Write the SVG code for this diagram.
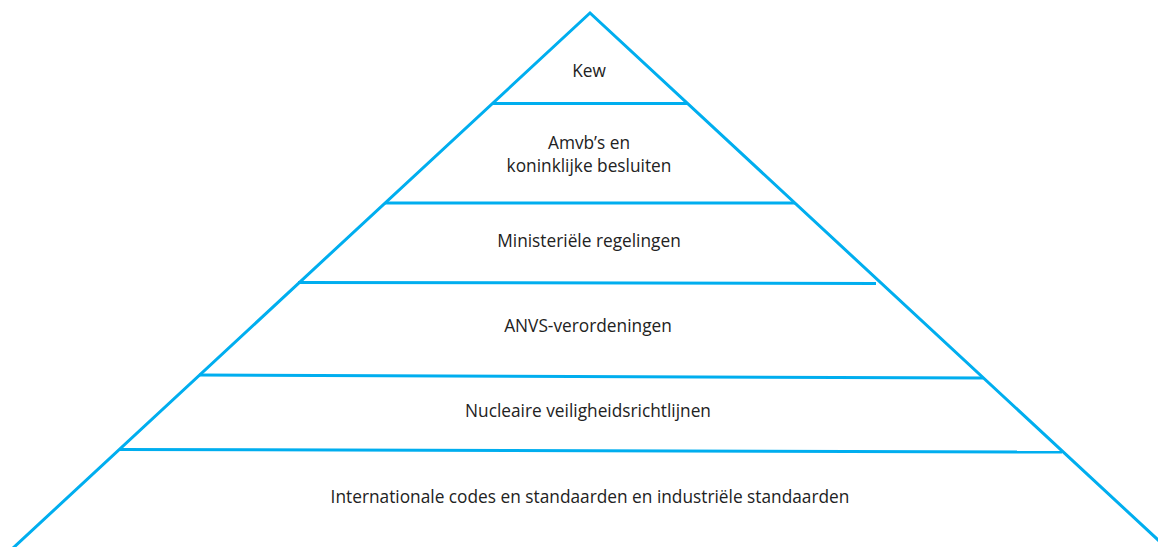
<svg xmlns="http://www.w3.org/2000/svg" width="1158" height="547" viewBox="0 0 1158 547">
  <style>
    .edge { fill: none; stroke: #00AEEF; stroke-width: 3; stroke-linejoin: miter; }
    .tier { stroke: #00AEEF; stroke-width: 3; }
    .label { font-family: "Open Sans", "Liberation Sans", sans-serif; font-size: 17.3px; fill: #222222; text-anchor: middle; }
  </style>
  <rect width="1158" height="547" fill="#ffffff"/>

  <!-- pyramid outline and tier dividers -->
  <g id="connectors">
    <polyline class="edge" points="12,549 590,13 1170,551"/>
    <line class="tier" x1="492" y1="103.5" x2="687" y2="103.5"/>
    <line class="tier" x1="385" y1="203" x2="795" y2="203"/>
    <line class="tier" x1="298" y1="282.5" x2="876" y2="283.5"/>
    <line class="tier" x1="199" y1="375" x2="983" y2="378"/>
    <line class="tier" x1="119" y1="449.5" x2="1062" y2="452"/>
  </g>

  <g id="tier-kew">
    <text class="label" x="589" y="77">Kew</text>
  </g>
  <g id="tier-amvb">
    <text class="label" x="589" y="149">Amvb’s en</text>
    <text class="label" x="589" y="172">koninklijke besluiten</text>
  </g>
  <g id="tier-ministerieel">
    <text class="label" x="589" y="247">Ministeriële regelingen</text>
  </g>
  <g id="tier-anvs">
    <text class="label" x="588" y="332">ANVS-verordeningen</text>
  </g>
  <g id="tier-richtlijnen">
    <text class="label" x="588" y="417">Nucleaire veiligheidsrichtlijnen</text>
  </g>
  <g id="tier-standaarden">
    <text class="label" x="590" y="503">Internationale codes en standaarden en industriële standaarden</text>
  </g>
</svg>
